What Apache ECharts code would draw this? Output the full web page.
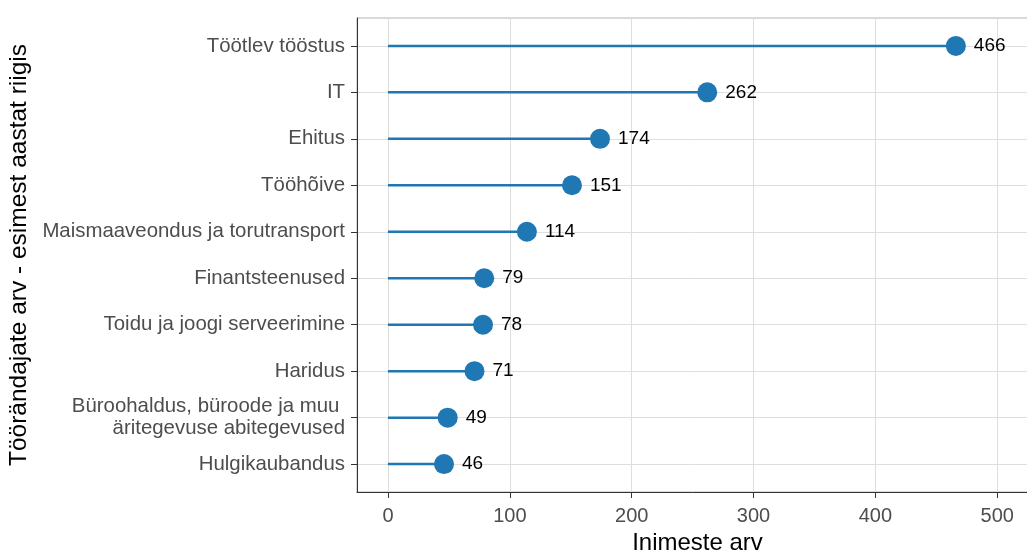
<!DOCTYPE html>
<html>
<head>
<meta charset="utf-8">
<script src="https://cdn.jsdelivr.net/npm/echarts@6/dist/echarts.min.js"></script>
<style>
html,body{margin:0;padding:0;background:#fff;}
#chart{width:1027px;height:554px;}
</style>
</head>
<body>
<div id="chart"></div>
<script>
const categories = [
  'Töötlev tööstus',
  'IT',
  'Ehitus',
  'Tööhõive',
  'Maismaaveondus ja torutransport',
  'Finantsteenused',
  'Toidu ja joogi serveerimine',
  'Haridus',
  'Büroohaldus, büroode ja muu \näritegevuse abitegevused',
  'Hulgikaubandus'
];
const values = [466, 262, 174, 151, 114, 79, 78, 71, 49, 46];
const xTicks = [0, 100, 200, 300, 400, 500];
const xTitle = 'Inimeste arv';
const yTitle = 'Töörändajate arv - esimest aastat riigis';

const FONT = '"Liberation Sans", Arial, sans-serif';
const BLUE = '#1f77b4';
const idx = categories.map((c, i) => i);
const pts = values.map((v, i) => [v, i]);

const chart = echarts.init(document.getElementById('chart'));
chart.setOption({
  animation: false,
  textStyle: { fontFamily: FONT },
  grid: {
    left: 357, top: 18, right: -11, bottom: 62,
    outerBoundsMode: 'none',
    containLabel: false,
    show: true, borderColor: '#b3b3b3', borderWidth: 1, backgroundColor: 'transparent'
  },
  xAxis: {
    type: 'value',
    min: -25.4, max: 533.4,
    name: xTitle,
    nameLocation: 'middle',
    nameGap: 39,
    nameTextStyle: { fontSize: 24, color: '#000', fontFamily: FONT },
    axisLine: { show: true, onZero: false, lineStyle: { color: '#333', width: 1 } },
    axisTick: { show: true, length: 6, customValues: xTicks, lineStyle: { color: '#333' } },
    axisLabel: { customValues: xTicks, fontSize: 20, color: '#4d4d4d', margin: 14, fontFamily: FONT },
    splitLine: { show: true, lineStyle: { color: '#dedede', width: 1 } }
  },
  yAxis: {
    type: 'value',
    inverse: true,
    min: -0.6, max: 9.6,
    name: yTitle,
    nameLocation: 'middle',
    nameGap: 319,
    nameTextStyle: { fontSize: 24.5, color: '#000', fontFamily: FONT },
    axisLine: { show: true, onZero: false, lineStyle: { color: '#333', width: 1 } },
    axisTick: { show: true, length: 6, customValues: idx, lineStyle: { color: '#333' } },
    axisLabel: {
      customValues: idx,
      formatter: v => categories[Math.round(v)],
      fontSize: 20.4, lineHeight: 22, color: '#4d4d4d', margin: 12, align: 'right', fontFamily: FONT
    },
    splitLine: { show: true, lineStyle: { color: '#dedede', width: 1 } }
  },
  series: [
    {
      type: 'custom',
      data: pts,
      encode: { x: 0, y: 1 },
      renderItem: (params, api) => {
        const s = api.coord([0, api.value(1)]);
        const e = api.coord([api.value(0), api.value(1)]);
        return {
          type: 'line',
          shape: { x1: s[0], y1: s[1], x2: e[0], y2: e[1] },
          style: { stroke: BLUE, lineWidth: 2.5 }
        };
      },
      z: 2
    },
    {
      type: 'scatter',
      data: pts,
      symbol: 'circle',
      symbolSize: 20,
      itemStyle: { color: BLUE, opacity: 1 },
      label: {
        show: true, position: 'right', distance: 8,
        formatter: p => String(p.value[0]),
        fontSize: 19, color: '#000', fontFamily: FONT
      },
      z: 3
    }
  ]
});
</script>
</body>
</html>
